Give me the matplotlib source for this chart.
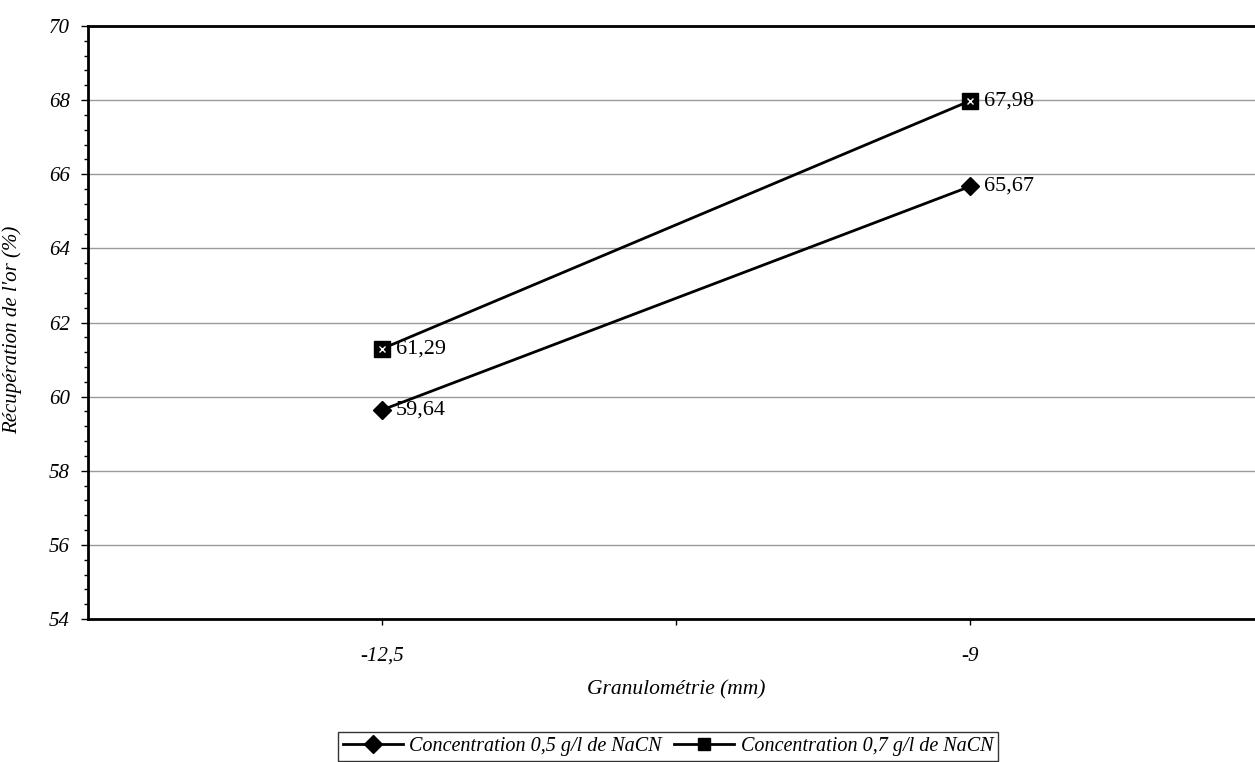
import matplotlib
matplotlib.use("Agg")
import matplotlib.pyplot as plt
from matplotlib.ticker import MultipleLocator, FixedLocator

categories = ["-12,5", "-9"]
series_05 = [59.64, 65.67]
series_07 = [61.29, 67.98]
labels_05 = ["59,64", "65,67"]
labels_07 = ["61,29", "67,98"]
legend_names = ["Concentration 0,5 g/l de NaCN", "Concentration 0,7 g/l de NaCN"]
y_ticks = [54, 56, 58, 60, 62, 64, 66, 68, 70]

plt.rcParams["font.family"] = ["Liberation Serif", "DejaVu Serif"]
plt.rcParams["font.style"] = "italic"

fig = plt.figure(figsize=(12.55, 7.62), dpi=100)
ax = fig.add_axes([88 / 1255, 143 / 762, 1176 / 1255, 593 / 762])

x = list(range(len(categories)))

l1, = ax.plot(x, series_05, color="black", lw=2, marker="D", markersize=9,
              markerfacecolor="black", markeredgecolor="black", zorder=3)
l2, = ax.plot(x, series_07, color="black", lw=2, marker="s", markersize=11,
              markerfacecolor="black", markeredgecolor="black", zorder=3)
ax.plot(x, series_07, linestyle="none", marker="x", markersize=4,
        markeredgecolor="white", markeredgewidth=1, zorder=4)

for xi, yi, s in zip(x, series_05, labels_05):
    ax.annotate(s, (xi, yi), xytext=(10, 0), textcoords="offset points",
                va="center", ha="left", fontsize=16, fontstyle="normal")
for xi, yi, s in zip(x, series_07, labels_07):
    ax.annotate(s, (xi, yi), xytext=(10, 0), textcoords="offset points",
                va="center", ha="left", fontsize=16, fontstyle="normal")

ax.set_xlim(-0.5, 1.5)
ax.set_ylim(54, 70)
ax.set_yticks(y_ticks)
ax.yaxis.set_minor_locator(MultipleLocator(0.4))
ax.set_xticks(x)
ax.set_xticklabels(categories)
ax.xaxis.set_minor_locator(FixedLocator([0.5]))

ax.grid(axis="y", which="major", color="#9a9a9a", lw=1)
ax.set_axisbelow(True)

for side in ["left", "bottom", "top"]:
    ax.spines[side].set_linewidth(2)
    ax.spines[side].set_color("black")
ax.spines["right"].set_visible(False)

ax.tick_params(axis="y", which="major", direction="out", length=5, width=1,
               labelsize=15, pad=8)
ax.tick_params(axis="y", which="minor", direction="out", length=3, width=1)
ax.tick_params(axis="x", which="both", direction="out", length=4, width=1,
               labelsize=15, pad=16)

ax.set_xlabel("Granulométrie (mm)", fontsize=15.5, va="center")
ax.xaxis.set_label_coords((676 - 88) / 1176, -(690 - 619) / 593)
ax.set_ylabel("Récupération de l'or (%)", fontsize=15)
ax.yaxis.set_label_coords(-(88 - 22) / 1176, (619 - 330) / 593)

leg = fig.legend([l1, l2], legend_names, loc="lower center",
                 bbox_to_anchor=(668 / 1255, 1 / 762), ncol=2, frameon=True,
                 fancybox=False, edgecolor="black", fontsize=14.5,
                 handlelength=3.0, columnspacing=0.6, handletextpad=0.3,
                 borderpad=0.25, borderaxespad=0)
leg.get_frame().set_linewidth(1)
leg.legend_handles[1].set_markersize(9)

fig.savefig("out.png", dpi=100, facecolor="white")
